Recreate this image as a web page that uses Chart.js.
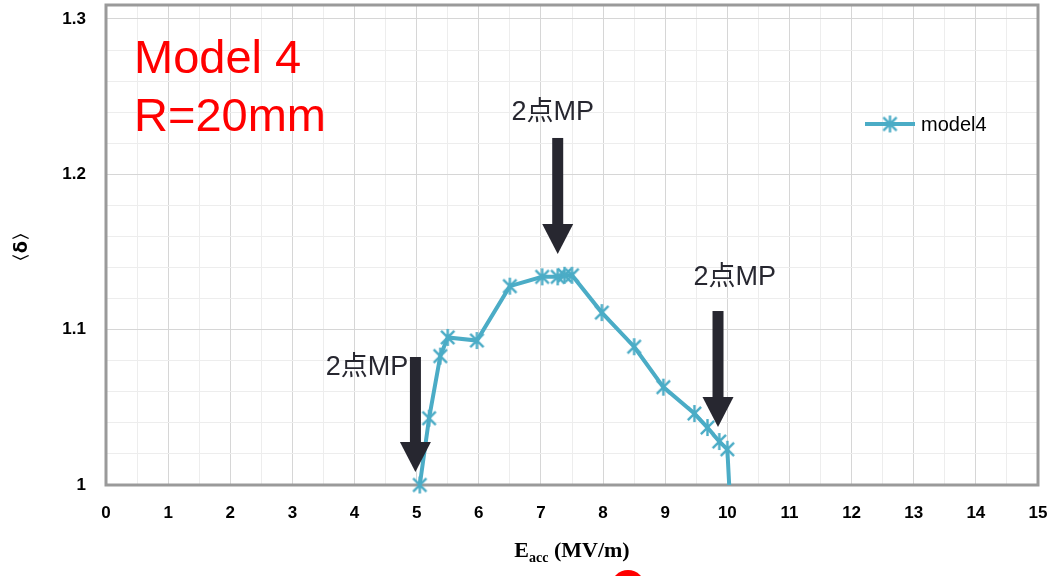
<!DOCTYPE html>
<html lang="en">
<head>
  <meta charset="UTF-8">
  <title>Model 4 R=20mm</title>
  <script src="https://cdn.jsdelivr.net/npm/chart.js"></script>
  <style>
    html, body { margin: 0; padding: 0; background: #ffffff; }
    #wrap { width: 1056px; height: 576px; position: relative; overflow: hidden; }
  </style>
</head>
<body>

<div id="wrap">
  <canvas id="mpChart" width="1056" height="576"></canvas>
</div>

<script>
  // data
  const eacc  = [5.05, 5.2, 5.38, 5.5, 5.97, 6.5, 7.02, 7.27, 7.38, 7.5, 7.98, 8.5, 8.97, 9.47, 9.68, 9.87, 10.0, 10.03];
  const delta = [1.0, 1.043, 1.083, 1.095, 1.093, 1.128, 1.134, 1.134, 1.135, 1.135, 1.111, 1.089, 1.063, 1.046, 1.037, 1.028, 1.023, 1.0];

  const xTickLabels = ['0', '1', '2', '3', '4', '5', '6', '7', '8', '9', '10', '11', '12', '13', '14', '15'];
  const yTickLabels = ['1', '1.1', '1.2', '1.3'];

  // "2点MP" annotations: arrows (x, shaft top, tip) and their labels
  const arrowX    = [4.98, 7.27, 9.85];
  const arrowTop  = [1.0824, 1.2234, 1.112];
  const arrowTip  = [1.0084, 1.1487, 1.0373];
  const noteX     = [4.2, 7.19, 10.12];
  const noteY     = [1.0753, 1.240, 1.1333];
  const noteText  = ['2点MP', '2点MP', '2点MP'];

  const LINE_COLOR = '#4bacc6';
  const ARROW_COLOR = '#272730';

  // Excel style star marker (x + vertical bar)
  function makeStar(size, color, lw) {
    const c = document.createElement('canvas');
    c.width = c.height = size;
    const g = c.getContext('2d');
    g.strokeStyle = color;
    g.lineWidth = lw;
    const m = size / 2, r = size / 2 - 1, d = r * 0.78;
    g.beginPath();
    g.moveTo(m - d, m - d); g.lineTo(m + d, m + d);
    g.moveTo(m + d, m - d); g.lineTo(m - d, m + d);
    g.moveTo(m, m - r); g.lineTo(m, m + r);
    g.stroke();
    return c;
  }
  const star = makeStar(19, LINE_COLOR, 2.4);

  const isMajor = (v, step) => Math.abs(v / step - Math.round(v / step)) < 1e-6;

  // drop the extra room chart.js keeps for edge labels, so layout.padding rules
  function noEdgePadding(scale) {
    scale.paddingTop = 0;
    scale.paddingBottom = 0;
    scale.paddingLeft = 0;
    scale.paddingRight = 0;
  }

  const overlay = {
    id: 'overlay',
    beforeDatasetsDraw(chart) {
      const { ctx, chartArea: a } = chart;
      ctx.save();
      ctx.strokeStyle = '#9a9a9a';
      ctx.lineWidth = 3;
      ctx.strokeRect(a.left, a.top, a.right - a.left, a.bottom - a.top);
      ctx.restore();
    },
    afterDatasetsDraw(chart) {
      const { ctx, scales: { x, y } } = chart;
      ctx.save();
      ctx.fillStyle = ARROW_COLOR;
      for (let i = 0; i < arrowX.length; i++) {
        const px = x.getPixelForValue(arrowX[i]);
        const top = y.getPixelForValue(arrowTop[i]);
        const tip = y.getPixelForValue(arrowTip[i]);
        const headLen = 30, headHalf = 15.5, shaftHalf = 5.5;
        ctx.fillRect(px - shaftHalf, top, shaftHalf * 2, tip - headLen - top + 1);
        ctx.beginPath();
        ctx.moveTo(px - headHalf, tip - headLen);
        ctx.lineTo(px + headHalf, tip - headLen);
        ctx.lineTo(px, tip);
        ctx.closePath();
        ctx.fill();
      }
      ctx.font = '27px "Liberation Sans", "Noto Sans CJK SC", sans-serif';
      ctx.textAlign = 'center';
      ctx.textBaseline = 'middle';
      for (let i = 0; i < noteText.length; i++) {
        ctx.fillText(noteText[i], x.getPixelForValue(noteX[i]), y.getPixelForValue(noteY[i]));
      }
      ctx.restore();
    },
    afterDraw(chart) {
      const { ctx, chartArea: a } = chart;
      ctx.save();

      // model title
      ctx.fillStyle = '#ff0000';
      ctx.font = '47px "Liberation Sans", Arial, sans-serif';
      ctx.textAlign = 'left';
      ctx.textBaseline = 'alphabetic';
      ctx.fillText('Model 4', 134, 73);
      ctx.fillText('R=20mm', 134, 131);

      // legend
      ctx.strokeStyle = LINE_COLOR;
      ctx.lineWidth = 4;
      ctx.beginPath();
      ctx.moveTo(865, 124);
      ctx.lineTo(915, 124);
      ctx.stroke();
      ctx.drawImage(star, 890 - star.width / 2, 124 - star.height / 2);
      ctx.fillStyle = '#000000';
      ctx.font = '20px "Liberation Sans", Arial, sans-serif';
      ctx.textBaseline = 'middle';
      ctx.fillText('model4', 921, 125);

      // y title
      ctx.save();
      ctx.translate(22, 247);
      ctx.rotate(-Math.PI / 2);
      ctx.textAlign = 'center';
      ctx.font = 'bold 18px "DejaVu Sans", sans-serif';
      ctx.fillText('\u3008\u03b4\u3009', 0, 0);
      ctx.restore();

      // x title with subscript
      const big = 'bold 22px "Liberation Serif", "Times New Roman", serif';
      const small = 'bold 14px "Liberation Serif", "Times New Roman", serif';
      ctx.textBaseline = 'alphabetic';
      ctx.font = big;
      const wE = ctx.measureText('E').width;
      const wRest = ctx.measureText(' (MV/m)').width;
      ctx.font = small;
      const wSub = ctx.measureText('acc').width;
      let sx = (a.left + a.right) / 2 - (wE + wSub + wRest) / 2;
      ctx.font = big;
      ctx.fillText('E', sx, 557);
      ctx.font = small;
      ctx.fillText('acc', sx + wE, 562);
      ctx.font = big;
      ctx.fillText(' (MV/m)', sx + wE + wSub, 557);

      // red marker cut off at the bottom
      ctx.fillStyle = '#ff0000';
      ctx.beginPath();
      ctx.arc(628, 587, 17, 0, Math.PI * 2);
      ctx.fill();

      ctx.restore();
    }
  };

  const tickFont = { family: '"Liberation Sans", Arial, sans-serif', size: 17, weight: 'bold' };

  new Chart(document.getElementById('mpChart').getContext('2d'), {
    type: 'scatter',
    data: {
      datasets: [{
        label: 'model4',
        data: eacc.map((v, i) => ({ x: v, y: delta[i] })),
        showLine: true,
        borderColor: LINE_COLOR,
        borderWidth: 4,
        pointStyle: star,
        pointRadius: ctx => (ctx.dataIndex === eacc.length - 1 ? 0 : 9),
        clip: false,
      }],
    },
    options: {
      responsive: false,
      animation: false,
      devicePixelRatio: 1,
      layout: { autoPadding: false, padding: { left: 0, top: 5, right: 18, bottom: 0 } },
      plugins: {
        legend: { display: false },
        tooltip: { enabled: false },
      },
      scales: {
        x: {
          type: 'linear',
          min: 0,
          max: 15,
          afterBuildTicks: scale => {
            const t = [];
            for (let v = 0; v <= 15.0001; v += 0.5) t.push({ value: Math.round(v * 10) / 10 });
            scale.ticks = t;
          },
          afterFit: scale => { scale.height = 91; noEdgePadding(scale); },
          grid: {
            drawTicks: false,
            color: ctx => (isMajor(ctx.tick.value, 1) ? '#d6d6d6' : '#ededed'),
          },
          border: { display: false },
          ticks: {
            autoSkip: false,
            maxRotation: 0,
            padding: 18,
            color: '#000000',
            font: tickFont,
            callback: v => (isMajor(v, 1) ? xTickLabels[Math.round(v)] : ''),
          },
        },
        y: {
          type: 'linear',
          min: 1,
          max: 1.309,
          afterBuildTicks: scale => {
            const t = [];
            for (let k = 0; k <= 15; k++) t.push({ value: Math.round((1 + k * 0.02) * 100) / 100 });
            scale.ticks = t;
          },
          afterFit: scale => { scale.width = 106; noEdgePadding(scale); },
          grid: {
            drawTicks: false,
            color: ctx => (isMajor(ctx.tick.value, 0.1) ? '#d6d6d6' : '#ededed'),
          },
          border: { display: false },
          ticks: {
            autoSkip: false,
            padding: 20,
            color: '#000000',
            font: tickFont,
            callback: v => (isMajor(v, 0.1) ? yTickLabels[Math.round((v - 1) * 10)] : ''),
          },
        },
      },
    },
    plugins: [overlay],
  });
</script>

</body>
</html>
